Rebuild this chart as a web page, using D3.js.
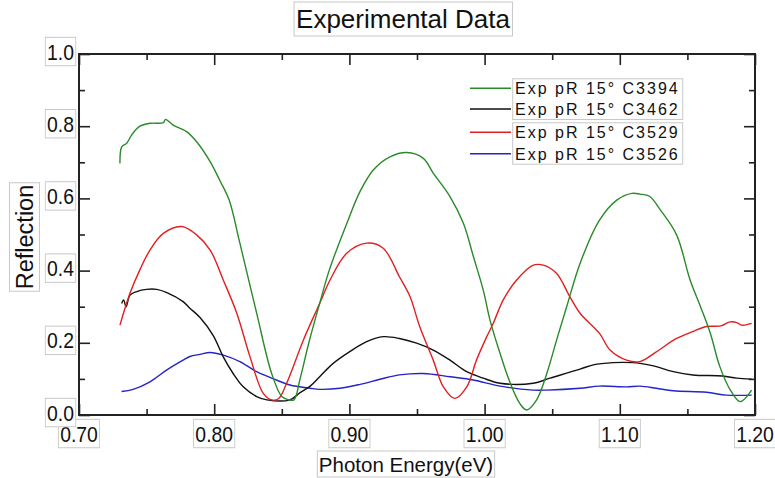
<!DOCTYPE html>
<html>
<head>
  <meta charset="UTF-8">
  <style>
    body { margin: 0; background: #fff; }
    text { font-family: "Liberation Sans", Arial, sans-serif; fill: #111; }
  </style>
</head>
<body>
<svg id="chart"></svg>
<script src="https://d3js.org/d3.v7.min.js"></script>
<script>

// ---- data ----
let seriesNames = ["Exp pR 15° C3394", "Exp pR 15° C3462", "Exp pR 15° C3529", "Exp pR 15° C3526"];
let seriesColors = ["#2a8a2a", "#111111", "#e02020", "#2424c8"];

let greenE = [0.7303,0.7316,0.7353,0.739,0.745,0.7525,0.7624,0.764,0.7697,0.7796,0.787,0.797,0.804,0.811,0.819,0.8314,0.8425,0.850,0.855,0.859,0.8635,0.870,0.878,0.885,0.898,0.908,0.918,0.930,0.9424,0.9547,0.962,0.9744,0.9843,0.9917,0.999,1.004,1.0114,1.019,1.026,1.031,1.0385,1.046,1.0533,1.0607,1.0706,1.085,1.098,1.109,1.115,1.122,1.130,1.142,1.152,1.1597,1.167,1.174,1.1818,1.189,1.1975];
let greenR = [0.697,0.743,0.753,0.776,0.800,0.808,0.810,0.819,0.803,0.785,0.757,0.702,0.651,0.596,0.476,0.282,0.115,0.051,0.042,0.042,0.100,0.200,0.309,0.400,0.530,0.620,0.680,0.715,0.727,0.711,0.670,0.605,0.531,0.439,0.346,0.263,0.171,0.088,0.032,0.014,0.042,0.115,0.208,0.300,0.420,0.540,0.596,0.614,0.612,0.606,0.568,0.499,0.374,0.300,0.226,0.134,0.069,0.037,0.069];

let blackE = [0.7316,0.733,0.7348,0.7377,0.7427,0.750,0.7574,0.765,0.777,0.782,0.7895,0.7993,0.8067,0.814,0.8215,0.8314,0.839,0.856,0.8635,0.871,0.878,0.888,0.900,0.9128,0.925,0.937,0.9497,0.962,0.9744,0.9868,0.999,1.0114,1.036,1.0484,1.0706,1.0804,1.095,1.110,1.115,1.125,1.1396,1.154,1.176,1.1865,1.1975];
let blackR = [0.309,0.319,0.300,0.332,0.342,0.348,0.348,0.339,0.314,0.296,0.270,0.220,0.161,0.115,0.078,0.051,0.042,0.042,0.062,0.080,0.106,0.143,0.175,0.203,0.217,0.212,0.199,0.180,0.152,0.120,0.102,0.088,0.088,0.102,0.127,0.139,0.145,0.145,0.143,0.136,0.120,0.111,0.108,0.102,0.099];

let redE = [0.7303,0.7377,0.745,0.7525,0.7624,0.776,0.787,0.797,0.8067,0.8167,0.8265,0.8363,0.8425,0.8475,0.8536,0.866,0.878,0.8857,0.898,0.9128,0.925,0.937,0.9448,0.952,0.962,0.9695,0.978,0.9868,0.994,1.0016,1.0064,1.0138,1.0237,1.036,1.0434,1.0533,1.063,1.0706,1.085,1.0928,1.105,1.115,1.127,1.142,1.154,1.164,1.175,1.1815,1.1865,1.190,1.1975];
let redR = [0.249,0.337,0.402,0.457,0.503,0.522,0.499,0.457,0.374,0.282,0.161,0.060,0.042,0.045,0.088,0.208,0.309,0.374,0.448,0.476,0.462,0.383,0.328,0.245,0.152,0.078,0.046,0.078,0.152,0.217,0.254,0.319,0.374,0.415,0.415,0.392,0.328,0.282,0.226,0.180,0.152,0.148,0.175,0.212,0.231,0.245,0.247,0.258,0.256,0.249,0.254];

let blueE = [0.7315,0.740,0.7525,0.765,0.777,0.782,0.7895,0.797,0.8067,0.819,0.8314,0.846,0.856,0.871,0.878,0.893,0.908,0.9226,0.937,0.9547,0.9744,0.9917,1.0114,1.036,1.046,1.0706,1.085,1.105,1.115,1.127,1.1396,1.164,1.179,1.1975];
let blueR = [0.065,0.071,0.092,0.125,0.152,0.162,0.168,0.173,0.166,0.148,0.120,0.097,0.083,0.074,0.071,0.074,0.085,0.099,0.111,0.115,0.106,0.097,0.080,0.069,0.069,0.074,0.080,0.078,0.080,0.074,0.067,0.063,0.055,0.055];

let xMajor = [0.70, 0.80, 0.90, 1.00, 1.10, 1.20];
let xMinor = [0.75, 0.85, 0.95, 1.05, 1.15];
let yMajor = [0.0, 0.2, 0.4, 0.6, 0.8, 1.0];
let yMinor = [0.1, 0.3, 0.5, 0.7, 0.9];

let width = 775, height = 478;
let svg = d3.select("#chart").attr("width", width).attr("height", height);

let x = d3.scaleLinear().domain([0.70, 1.20]).range([79, 755]);
let y = d3.scaleLinear().domain([0, 1]).range([415, 54]);

// text with a thin grey box round it
function boxedText(g, str, opts) {
  let t = g.append("text")
    .attr("text-anchor", opts.anchor || "middle")
    .attr("font-size", opts.size)
    .text(str);
  let b = t.node().getBBox();
  let p = opts.pad || 2;
  g.insert("rect", "text")
    .attr("x", b.x - p).attr("y", b.y - p)
    .attr("width", b.width + 2 * p).attr("height", b.height + 2 * p)
    .attr("fill", "#fff").attr("stroke", "#c8c8c8").attr("stroke-width", 1);
  return t;
}

// ---- lines ----
let line = d3.line().x(d => x(d[0])).y(d => y(d[1])).curve(d3.curveCatmullRom.alpha(0.5));
let series = [
  d3.zip(greenE, greenR),
  d3.zip(blackE, blackR),
  d3.zip(redE, redR),
  d3.zip(blueE, blueR)
];
// blue first, green last on top
[3, 1, 2, 0].forEach(i => {
  svg.append("path")
    .datum(series[i])
    .attr("d", line)
    .attr("fill", "none")
    .attr("stroke", seriesColors[i])
    .attr("stroke-width", 1.4);
});

// ---- axes (ticks point inward on all four sides) ----
function axisPair(axisFn, scale, major, minor, tr) {
  svg.append("g").attr("transform", tr)
    .call(axisFn(scale).tickValues(major).tickSize(-11).tickFormat(""))
    .call(g => g.select(".domain").remove());
  svg.append("g").attr("transform", tr)
    .call(axisFn(scale).tickValues(minor).tickSize(-6).tickFormat(""))
    .call(g => g.select(".domain").remove());
}
axisPair(d3.axisBottom, x, xMajor, xMinor, "translate(0,415)");
axisPair(d3.axisTop, x, xMajor, xMinor, "translate(0,54)");
axisPair(d3.axisLeft, y, yMajor, yMinor, "translate(79,0)");
axisPair(d3.axisRight, y, yMajor, yMinor, "translate(755,0)");
svg.selectAll(".tick line").attr("stroke", "#222").attr("stroke-width", 1.6);

svg.append("rect")
  .attr("x", 79).attr("y", 54).attr("width", 676).attr("height", 361)
  .attr("fill", "none").attr("stroke", "#222").attr("stroke-width", 2);

// ---- tick labels ----
xMajor.forEach(v => {
  let g = svg.append("g").attr("transform", "translate(" + x(v) + ",441.5) scale(0.88,1)");
  boxedText(g, d3.format(".2f")(v), { size: 22, pad: 2 });
});
yMajor.forEach(v => {
  let g = svg.append("g").attr("transform", "translate(74," + (y(v) + 5.5) + ") scale(0.88,1)");
  boxedText(g, d3.format(".1f")(v), { size: 22, anchor: "end", pad: 2 });
});

// ---- titles ----
boxedText(svg.append("g").attr("transform", "translate(403,28)"), "Experimental Data", { size: 26, pad: 2 });
boxedText(svg.append("g").attr("transform", "translate(406,471.5)"), "Photon Energy(eV)", { size: 20.5, pad: 1.5 });
boxedText(svg.append("g").attr("transform", "translate(32.5,237) rotate(-90)"), "Reflection", { size: 23.5, pad: 2 });

// ---- legend (two boxes of two entries) ----
let legendY = [88.3, 109, 132.3, 153.7];
[[0, 1], [2, 3]].forEach(group => {
  let lg = svg.append("g");
  let ts = [];
  group.forEach(i => {
    lg.append("line")
      .attr("x1", 470).attr("x2", 511)
      .attr("y1", legendY[i]).attr("y2", legendY[i])
      .attr("stroke", seriesColors[i]).attr("stroke-width", 1.6);
    ts.push(lg.append("text")
      .attr("x", 515).attr("y", legendY[i] + 6)
      .attr("font-size", 16)
      .attr("letter-spacing", 2)
      .text(seriesNames[i]));
  });
  let b0 = ts[0].node().getBBox(), b1 = ts[1].node().getBBox();
  lg.insert("rect", "line")
    .attr("x", 512.7).attr("y", b0.y - 1.5)
    .attr("width", 170).attr("height", b1.y + b1.height - b0.y + 3)
    .attr("fill", "#fff").attr("stroke", "#c8c8c8").attr("stroke-width", 1);
});

</script>
</body>
</html>
